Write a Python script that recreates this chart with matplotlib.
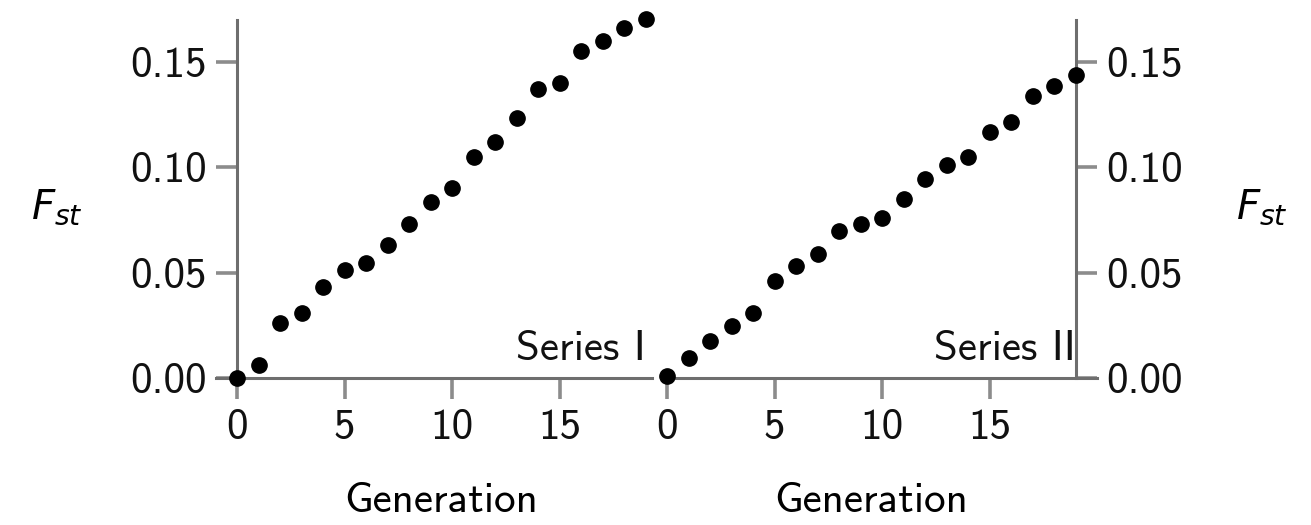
import matplotlib
matplotlib.use("Agg")
import matplotlib.pyplot as plt
from matplotlib.transforms import blended_transform_factory

# Fst per generation for the two series
generations = list(range(20))
fst_series_1 = [0.000, 0.006, 0.026, 0.031, 0.043, 0.0515, 0.0545, 0.063, 0.073, 0.0835,
                0.090, 0.105, 0.112, 0.1235, 0.137, 0.140, 0.1555, 0.160, 0.166, 0.1705]
fst_series_2 = [0.001, 0.0095, 0.0177, 0.0245, 0.031, 0.046, 0.053, 0.059, 0.070, 0.073,
                0.076, 0.085, 0.0947, 0.101, 0.105, 0.117, 0.1216, 0.134, 0.1386, 0.144]
series_names = ["Series I", "Series II"]
x_ticks = [0, 5, 10, 15]
y_ticks = [0.0, 0.05, 0.10, 0.15]
y_tick_labels = ["0.00", "0.05", "0.10", "0.15"]

plt.rcParams["font.family"] = ["cmss10", "DejaVu Sans"]
plt.rcParams["mathtext.fontset"] = "dejavusans"

FS = 31
SPINE = "#6e6e6e"
TICK = "#8c8c8c"

W, H = 1311, 525
fig = plt.figure(figsize=(W / 100, H / 100), dpi=100)
ax1 = fig.add_axes([215.5 / W, 147 / H, 436.5 / W, 358 / H])
ax2 = fig.add_axes([662.7 / W, 147 / H, 434.3 / W, 358 / H])


def style(ax, side):
    ax.set_ylim(0, 0.17)
    ax.set_xticks(x_ticks)
    ax.set_xticklabels([str(t) for t in x_ticks])
    ax.set_yticks(y_ticks)
    ax.set_yticklabels(y_tick_labels)
    ax.spines["top"].set_visible(False)
    other = "right" if side == "left" else "left"
    ax.spines[other].set_visible(False)
    for s in ("bottom", side):
        ax.spines[s].set_color(SPINE)
        ax.spines[s].set_linewidth(2.2)
    ax.tick_params(direction="out", length=15, width=2.6, color=TICK,
                   labelsize=FS, pad=7, labelcolor="#111111")
    if side == "right":
        ax.yaxis.tick_right()
        ax.yaxis.set_label_position("right")
    ax.set_xlabel("Generation", fontsize=FS)
    ax.xaxis.set_label_coords(9.5, -0.29,
                              transform=blended_transform_factory(ax.transData, ax.transAxes))
    ax.set_ylabel(r"$F_{st}$", fontsize=29, rotation=0, ha="center", va="center")


ax1.set_xlim(-1, 19.3)
ax1.spines["left"].set_position(("data", 0))
style(ax1, "left")
ax1.yaxis.set_label_coords(-0.363, 0.478)

ax2.set_xlim(-0.2, 20)
ax2.spines["right"].set_position(("data", 19))
style(ax2, "right")
ax2.yaxis.set_label_coords(1.38, 0.478)

for ax, fst, name in zip((ax1, ax2), (fst_series_1, fst_series_2), series_names):
    ax.plot(generations, fst, "o", color="black", markersize=11, clip_on=False, zorder=5)
    ax.text(19, 0.0085, name, fontsize=FS, ha="right", va="baseline", color="#111111")

fig.savefig("out.png", dpi=100)
